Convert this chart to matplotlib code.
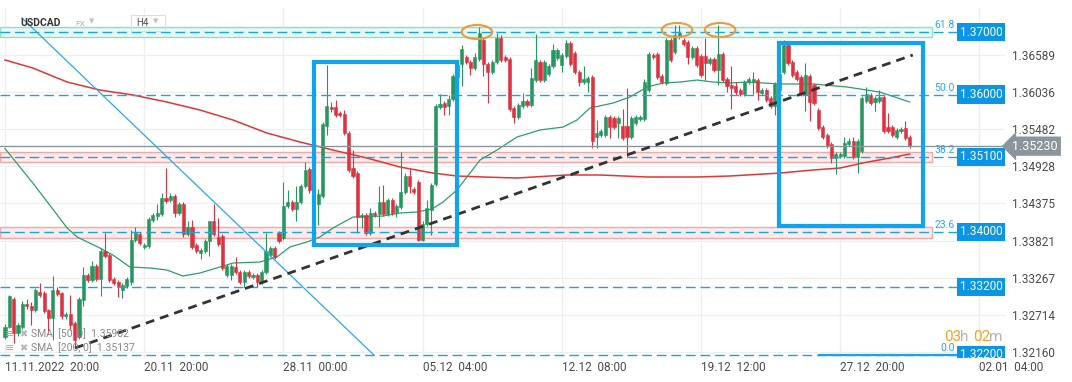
import matplotlib
matplotlib.use("Agg")
import numpy as np
import matplotlib.pyplot as plt
from matplotlib.patches import Rectangle, Ellipse

plt.rcParams['font.family'] = ['Roboto', 'DejaVu Sans']

# ---- data (USDCAD, H4 candles) ----
opens = [
    1.3239, 1.3254, 1.3295, 1.3244, 1.3254, 1.3288, 1.3285, 1.3278, 1.3306, 1.3304,
    1.3278, 1.3267, 1.3309, 1.3304, 1.3269, 1.3272, 1.3260, 1.3239, 1.3294, 1.3331,
    1.3324, 1.3345, 1.3325, 1.3366, 1.3361, 1.3325, 1.3320, 1.3309, 1.3315, 1.3321,
    1.3383, 1.3392, 1.3373, 1.3374, 1.3413, 1.3419, 1.3422, 1.3446, 1.3443, 1.3448,
    1.3424, 1.3437, 1.3392, 1.3403, 1.3376, 1.3364, 1.3367, 1.3381, 1.3412, 1.3388,
    1.3389, 1.3331, 1.3331, 1.3343, 1.3336, 1.3321, 1.3335, 1.3328, 1.3331, 1.3320,
    1.3335, 1.3361, 1.3371, 1.3393, 1.3386, 1.3434, 1.3439, 1.3429, 1.3439, 1.3463,
    1.3489, 1.3458, 1.3436, 1.3448, 1.3553, 1.3581, 1.3581, 1.3573, 1.3571, 1.3543,
    1.3490, 1.3483, 1.3418, 1.3421, 1.3393, 1.3424, 1.3422, 1.3440, 1.3422, 1.3442,
    1.3425, 1.3432, 1.3455, 1.3479, 1.3459, 1.3469, 1.3383, 1.3407, 1.3428, 1.3467,
    1.3581, 1.3588, 1.3583, 1.3593, 1.3626, 1.3646, 1.3656, 1.3648, 1.3639, 1.3653,
    1.3682, 1.3646, 1.3634, 1.3648, 1.3685, 1.3656, 1.3653, 1.3580, 1.3567, 1.3583,
    1.3591, 1.3585, 1.3622, 1.3648, 1.3622, 1.3631, 1.3642, 1.3654, 1.3644, 1.3657,
    1.3677, 1.3662, 1.3634, 1.3618, 1.3619, 1.3626, 1.3536, 1.3540, 1.3540, 1.3567,
    1.3565, 1.3557, 1.3553, 1.3553, 1.3536, 1.3557, 1.3563, 1.3563, 1.3607, 1.3659,
    1.3661, 1.3628, 1.3617, 1.3682, 1.3664, 1.3686, 1.3681, 1.3679, 1.3656, 1.3669,
    1.3658, 1.3658, 1.3647, 1.3653, 1.3636, 1.3661, 1.3623, 1.3614, 1.3612, 1.3607,
    1.3601, 1.3618, 1.3619, 1.3621, 1.3602, 1.3606, 1.3595, 1.3583, 1.3606, 1.3633,
    1.3674, 1.3649, 1.3633, 1.3626, 1.3599, 1.3628, 1.3614, 1.3577, 1.3551, 1.3540,
    1.3526, 1.3505, 1.3508, 1.3508, 1.3526, 1.3531, 1.3507, 1.3516, 1.3591, 1.3599,
    1.3589, 1.3591, 1.3596, 1.3552, 1.3551, 1.3537, 1.3545, 1.3550, 1.3536,
]
highs = [
    1.3258, 1.3301, 1.3298, 1.3260, 1.3292, 1.3295, 1.3290, 1.3312, 1.3319, 1.3307,
    1.3280, 1.3330, 1.3313, 1.3306, 1.3276, 1.3301, 1.3263, 1.3298, 1.3343, 1.3334,
    1.3351, 1.3348, 1.3371, 1.3394, 1.3364, 1.3328, 1.3323, 1.3319, 1.3328, 1.3398,
    1.3403, 1.3395, 1.3379, 1.3418, 1.3424, 1.3436, 1.3453, 1.3491, 1.3453, 1.3451,
    1.3440, 1.3440, 1.3412, 1.3413, 1.3378, 1.3371, 1.3385, 1.3412, 1.3436, 1.3416,
    1.3392, 1.3348, 1.3347, 1.3357, 1.3339, 1.3338, 1.3338, 1.3334, 1.3334, 1.3338,
    1.3394, 1.3374, 1.3374, 1.3396, 1.3469, 1.3458, 1.3442, 1.3463, 1.3466, 1.3500,
    1.3492, 1.3461, 1.3459, 1.3559, 1.3644, 1.3589, 1.3592, 1.3575, 1.3577, 1.3546,
    1.3517, 1.3486, 1.3424, 1.3424, 1.3431, 1.3427, 1.3464, 1.3465, 1.3446, 1.3445,
    1.3437, 1.3515, 1.3483, 1.3489, 1.3462, 1.3473, 1.3411, 1.3443, 1.3468, 1.3586,
    1.3601, 1.3591, 1.3599, 1.3631, 1.3648, 1.3674, 1.3659, 1.3651, 1.3662, 1.3700,
    1.3685, 1.3649, 1.3652, 1.3692, 1.3688, 1.3659, 1.3656, 1.3583, 1.3588, 1.3602,
    1.3594, 1.3639, 1.3690, 1.3651, 1.3651, 1.3645, 1.3675, 1.3669, 1.3662, 1.3681,
    1.3680, 1.3665, 1.3637, 1.3642, 1.3627, 1.3629, 1.3562, 1.3549, 1.3570, 1.3570,
    1.3568, 1.3568, 1.3578, 1.3609, 1.3568, 1.3569, 1.3569, 1.3623, 1.3664, 1.3662,
    1.3664, 1.3631, 1.3685, 1.3685, 1.3704, 1.3704, 1.3684, 1.3682, 1.3672, 1.3672,
    1.3661, 1.3684, 1.3656, 1.3656, 1.3704, 1.3664, 1.3626, 1.3642, 1.3619, 1.3610,
    1.3622, 1.3626, 1.3634, 1.3624, 1.3609, 1.3609, 1.3598, 1.3619, 1.3634, 1.3682,
    1.3677, 1.3652, 1.3636, 1.3629, 1.3647, 1.3631, 1.3617, 1.3580, 1.3554, 1.3543,
    1.3529, 1.3515, 1.3514, 1.3536, 1.3535, 1.3536, 1.3533, 1.3598, 1.3611, 1.3602,
    1.3598, 1.3606, 1.3599, 1.3572, 1.3554, 1.3550, 1.3552, 1.3561, 1.3539,
]
lows = [
    1.3236, 1.3252, 1.3230, 1.3240, 1.3250, 1.3280, 1.3257, 1.3275, 1.3298, 1.3274,
    1.3245, 1.3234, 1.3300, 1.3266, 1.3265, 1.3249, 1.3224, 1.3236, 1.3284, 1.3321,
    1.3321, 1.3322, 1.3300, 1.3356, 1.3321, 1.3316, 1.3298, 1.3297, 1.3312, 1.3316,
    1.3380, 1.3376, 1.3370, 1.3371, 1.3410, 1.3413, 1.3419, 1.3438, 1.3440, 1.3418,
    1.3421, 1.3388, 1.3389, 1.3370, 1.3363, 1.3354, 1.3364, 1.3359, 1.3389, 1.3374,
    1.3338, 1.3328, 1.3324, 1.3332, 1.3318, 1.3313, 1.3326, 1.3325, 1.3313, 1.3317,
    1.3332, 1.3358, 1.3355, 1.3378, 1.3383, 1.3431, 1.3426, 1.3411, 1.3436, 1.3460,
    1.3453, 1.3420, 1.3406, 1.3445, 1.3540, 1.3574, 1.3567, 1.3566, 1.3539, 1.3485,
    1.3476, 1.3393, 1.3401, 1.3390, 1.3390, 1.3418, 1.3403, 1.3419, 1.3419, 1.3420,
    1.3418, 1.3429, 1.3452, 1.3453, 1.3452, 1.3381, 1.3381, 1.3404, 1.3391, 1.3464,
    1.3578, 1.3570, 1.3570, 1.3590, 1.3620, 1.3613, 1.3645, 1.3629, 1.3636, 1.3650,
    1.3627, 1.3587, 1.3631, 1.3645, 1.3649, 1.3649, 1.3575, 1.3558, 1.3564, 1.3580,
    1.3582, 1.3582, 1.3619, 1.3619, 1.3619, 1.3628, 1.3639, 1.3651, 1.3634, 1.3654,
    1.3643, 1.3630, 1.3613, 1.3615, 1.3603, 1.3520, 1.3520, 1.3537, 1.3537, 1.3535,
    1.3548, 1.3535, 1.3532, 1.3507, 1.3533, 1.3554, 1.3560, 1.3560, 1.3604, 1.3653,
    1.3623, 1.3616, 1.3614, 1.3648, 1.3661, 1.3683, 1.3673, 1.3646, 1.3653, 1.3641,
    1.3626, 1.3622, 1.3644, 1.3633, 1.3614, 1.3618, 1.3603, 1.3578, 1.3600, 1.3598,
    1.3598, 1.3615, 1.3601, 1.3592, 1.3599, 1.3589, 1.3580, 1.3570, 1.3603, 1.3630,
    1.3644, 1.3626, 1.3620, 1.3598, 1.3575, 1.3560, 1.3585, 1.3547, 1.3534, 1.3520,
    1.3498, 1.3482, 1.3505, 1.3505, 1.3523, 1.3504, 1.3483, 1.3513, 1.3588, 1.3585,
    1.3576, 1.3588, 1.3542, 1.3542, 1.3537, 1.3534, 1.3542, 1.3532, 1.3520,
]
closes = [
    1.3254, 1.3299, 1.3244, 1.3257, 1.3288, 1.3284, 1.3278, 1.3309, 1.3301, 1.3277,
    1.3267, 1.3309, 1.3303, 1.3269, 1.3272, 1.3257, 1.3234, 1.3295, 1.3331, 1.3324,
    1.3345, 1.3325, 1.3366, 1.3359, 1.3324, 1.3319, 1.3314, 1.3316, 1.3325, 1.3383,
    1.3393, 1.3379, 1.3376, 1.3415, 1.3421, 1.3423, 1.3446, 1.3441, 1.3449, 1.3424,
    1.3437, 1.3392, 1.3403, 1.3373, 1.3366, 1.3368, 1.3382, 1.3411, 1.3392, 1.3377,
    1.3341, 1.3345, 1.3344, 1.3335, 1.3321, 1.3335, 1.3329, 1.3331, 1.3320, 1.3335,
    1.3367, 1.3371, 1.3358, 1.3381, 1.3434, 1.3439, 1.3429, 1.3440, 1.3463, 1.3488,
    1.3458, 1.3436, 1.3452, 1.3556, 1.3583, 1.3578, 1.3570, 1.3570, 1.3542, 1.3488,
    1.3479, 1.3418, 1.3421, 1.3393, 1.3424, 1.3421, 1.3440, 1.3422, 1.3443, 1.3423,
    1.3434, 1.3455, 1.3479, 1.3464, 1.3455, 1.3383, 1.3407, 1.3431, 1.3465, 1.3583,
    1.3586, 1.3581, 1.3593, 1.3628, 1.3644, 1.3668, 1.3648, 1.3639, 1.3656, 1.3691,
    1.3646, 1.3634, 1.3649, 1.3685, 1.3652, 1.3652, 1.3578, 1.3567, 1.3585, 1.3591,
    1.3585, 1.3624, 1.3652, 1.3622, 1.3648, 1.3642, 1.3666, 1.3666, 1.3659, 1.3677,
    1.3646, 1.3633, 1.3619, 1.3623, 1.3624, 1.3530, 1.3542, 1.3546, 1.3567, 1.3551,
    1.3551, 1.3565, 1.3535, 1.3536, 1.3565, 1.3566, 1.3566, 1.3619, 1.3661, 1.3656,
    1.3626, 1.3619, 1.3682, 1.3651, 1.3689, 1.3692, 1.3676, 1.3656, 1.3669, 1.3644,
    1.3629, 1.3647, 1.3653, 1.3636, 1.3661, 1.3621, 1.3612, 1.3609, 1.3603, 1.3601,
    1.3619, 1.3623, 1.3623, 1.3603, 1.3606, 1.3592, 1.3583, 1.3616, 1.3630, 1.3674,
    1.3647, 1.3629, 1.3623, 1.3601, 1.3629, 1.3589, 1.3588, 1.3550, 1.3537, 1.3523,
    1.3505, 1.3512, 1.3511, 1.3528, 1.3531, 1.3507, 1.3530, 1.3595, 1.3601, 1.3588,
    1.3595, 1.3596, 1.3545, 1.3545, 1.3540, 1.3547, 1.3549, 1.3535, 1.3523,
]

# SMA lines (candle index, price)
sma50_x = [0, 6.4, 14.3, 16.6, 21.8, 24.8, 28.7, 33.3, 37.2, 40.9, 44.8, 49.4, 52.4,
           58.6, 62.5, 65.5, 69.4, 72.4, 75.4, 80.0, 86.9, 90.8, 94.7, 98.2, 100.7,
           103.9, 106.2, 109.2, 113.1, 117.7, 123.0, 128.3, 131.5, 134.5, 139.8,
           143.7, 147.6, 151.3, 155.2, 159.1, 162.8, 166.7, 170.6, 174.3, 178.2,
           185.7, 193.6, 201.1, 208.0]
sma50_y = [1.35194, 1.34680, 1.34009, 1.33875, 1.33711, 1.33607, 1.33428, 1.33413,
           1.33383, 1.33294, 1.33338, 1.33428, 1.33487, 1.33502, 1.33577, 1.33726,
           1.33801, 1.33875, 1.34009, 1.34173, 1.34188, 1.34233, 1.34248, 1.34293,
           1.34397, 1.34576, 1.34770, 1.35023, 1.35172, 1.35366, 1.35471, 1.35515,
           1.35620, 1.35799, 1.35873, 1.35963, 1.36112, 1.36172, 1.36186, 1.36216,
           1.36186, 1.36172, 1.36186, 1.36172, 1.36157, 1.36157, 1.36112, 1.36037,
           1.35888]
sma200_x = [0, 6.4, 14.3, 21.8, 29.4, 37.2, 44.8, 52.4, 60.2, 67.8, 75.4, 83.2, 90.8,
            98.4, 103.9, 109.9, 117.7, 129.2, 136.8, 147.6, 159.1, 166.7, 178.2,
            185.7, 192.0, 197.2, 203.4, 208.0]
sma200_y = [1.36515, 1.36395, 1.36186, 1.36067, 1.35993, 1.35888, 1.35769, 1.35620,
            1.35426, 1.35292, 1.35172, 1.35053, 1.34919, 1.34829, 1.34785, 1.34770,
            1.34755, 1.34800, 1.34800, 1.34770, 1.34770, 1.34785, 1.34829, 1.34874,
            1.34904, 1.34979, 1.35053, 1.35113]

# horizontal levels (where they sit on the chart) and their labels
level_prices = [1.3693, 1.3600, 1.3507, 1.3395, 1.3313, 1.3212]
level_labels = ["1.37000", "1.36000", "1.35100", "1.34000", "1.33200", "1.32200"]
fib_prices = [1.3693, 1.3600, 1.3507, 1.3395, 1.3212]
fib_labels = ["61.8", "50.0", "38.2", "23.6", "0.0"]
green_zone = (1.36858, 1.37007)
red_zones = [(1.34993, 1.35143), (1.33860, 1.34024)]

last_price = 1.3523
yticks = [1.36589, 1.36036, 1.35482, 1.34928, 1.34375, 1.33821, 1.33267, 1.32714, 1.32160]
xtick_idx = [0, 32, 64, 96, 128, 160, 192, 224]
xtick_labels = ["11.11.2022  20:00", "20.11  20:00", "28.11  00:00", "05.12  04:00",
                "12.12  08:00", "19.12  12:00", "27.12  20:00", "02.01  04:00"]

# drawings (index, price)
trend_dash = [(16.1, 1.32220), (208.7, 1.36589)]
trend_blue = [(3.9, 1.37141), (84.8, 1.32116)]
boxes = [(71.0, 1.33756, 103.9, 1.36485), (177.9, 1.34039, 211.0, 1.36768)]
circles = [(108.5, 1.36932), (154.5, 1.36962), (164.4, 1.36962)]

GREEN = '#26975f'
RED = '#dd3340'
BLUE = '#1aa3e8'

fig = plt.figure(figsize=(10.72, 3.82), dpi=100)
W, H = 1072, 382


def fx(x):
    return x / W


def fy(y):
    return 1 - y / H


ax = fig.add_axes([0, fy(358), 1005 / W, 350 / H])
ax.set_xlim(-1.15, 229.9)
ax.set_ylim(1.32071, 1.37290)
for s in ax.spines.values():
    s.set_visible(False)

ax.yaxis.tick_right()
ax.set_yticks(yticks)
ax.set_yticklabels([f"{v:.5f}" for v in yticks])
ax.tick_params(axis='y', length=0, pad=5, labelsize=8.5, labelcolor='#4a4a4a')
ax.set_xticks(xtick_idx)
ax.set_xticklabels(xtick_labels, ha='left')
ax.tick_params(axis='x', length=0, pad=2.5, labelsize=8.5, labelcolor='#4a4a4a')
ax.grid(True, color='#efefef', lw=0.9)
ax.set_axisbelow(True)

ytr = ax.get_yaxis_transform()

# zones
ax.axhspan(*green_zone, xmin=0, xmax=932 / 1005, fc='#e8f8f2', ec='#93ddc1', lw=1, zorder=1)
for lo, hi in red_zones:
    ax.axhspan(lo, hi, xmin=0, xmax=932 / 1005, fc='#fdeaea', ec='#f3a8a8', lw=1, zorder=1)

# SMA lines
ax.plot(sma200_x, sma200_y, color='#e03636', lw=1.1, zorder=2)
ax.plot(sma50_x, sma50_y, color='#2e9e6b', lw=0.9, zorder=2)

# candles
o = np.array(opens)
h = np.array(highs)
l = np.array(lows)
c = np.array(closes)
idx = np.arange(len(o))
cols = np.where(c >= o, GREEN, RED)
ax.vlines(idx, l, h, colors=cols, lw=0.8, zorder=3)
ax.bar(idx, np.maximum(np.abs(c - o), 0.00005), bottom=np.minimum(o, c), width=0.72,
       color=cols, edgecolor=cols, lw=0.4, zorder=4)

# level lines
ax.hlines(level_prices, -1.15, 218.9, colors=BLUE, lw=1.0, linestyles=(0, (7, 3.5)), zorder=5)
ax.hlines(level_prices[-1], 187, 218.9, colors=BLUE, lw=1.6, zorder=5)
ax.axhline(last_price, color='#8b959b', lw=1.0, zorder=5)

for p, t in zip(fib_prices, fib_labels):
    ax.text(955 / 1005, p + 0.00025, t, transform=ytr, ha='right', va='bottom',
            color='#29a8e0', fontsize=7.5, zorder=6)
for p, t in zip(level_prices, level_labels):
    ax.text(981 / 1005, p, t, transform=ytr, ha='center', va='center', color='white',
            fontsize=8.5, zorder=7, clip_on=True,
            bbox=dict(boxstyle='square,pad=0.22', fc='#0a95e6', ec='none'))

# current price tag
ax.text(1035 / 1005, last_price, "1.35230", transform=ytr, ha='center', va='center',
        color='white', fontsize=9, zorder=7, clip_on=False,
        bbox=dict(boxstyle='larrow,pad=0.25', fc='#8b959b', ec='none'))

# drawings
(x0, y0), (x1, y1) = trend_blue
ax.plot([x0, x1], [y0, y1], color='#2aa9e6', lw=0.9, zorder=5)
(x0, y0), (x1, y1) = trend_dash
ax.plot([x0, x1], [y0, y1], color='#333333', lw=2, ls=(0, (3.2, 2.2)), zorder=6)
for bx0, by0, bx1, by1 in boxes:
    ax.add_patch(Rectangle((bx0, by0), bx1 - bx0, by1 - by0, fill=False,
                           ec='#10a4ee', lw=3, zorder=6))
for cx, cy in circles:
    ax.add_patch(Ellipse((cx, cy), 7.0, 0.0021, fill=False, ec='#ee9a3a', lw=1.5, zorder=6))

# header
fig.text(fx(20), fy(23), "USDCAD", fontsize=7.5, color='#333333', fontweight='bold', va='center')
fig.text(fx(75), fy(24), "FX", fontsize=6, color='#b0b0b0', va='center')
fig.text(fx(89), fy(22), "▼", fontsize=5, color='#c0c0c0', va='center')
fig.patches.append(plt.Rectangle((fx(131), fy(31)), 34 / W, 16 / H, transform=fig.transFigure,
                                 fill=False, ec='#dddddd', lw=0.8))
fig.text(fx(136), fy(23), "H4", fontsize=7, color='#555555', va='center')
fig.text(fx(153), fy(22), "▼", fontsize=5, color='#c0c0c0', va='center')

# legend
for yy, t in [(334, "SMA  [50, 0]  1.35902"), (348, "SMA  [200, 0]  1.35137")]:
    fig.text(fx(5), fy(yy), "≡", fontsize=8, color='#aaaaaa', va='center', family='DejaVu Sans')
    fig.text(fx(19), fy(yy), "✖", fontsize=7, color='#b5b5b5', va='center', family='DejaVu Sans')
    fig.text(fx(31), fy(yy), t, fontsize=7.5, color='#888888', va='center')

# timer
fig.text(fx(944), fy(337), "03", fontsize=11, color='#f5a030', va='center')
fig.text(fx(960), fy(337), "h", fontsize=11, color='#b5b5b5', va='center')
fig.text(fx(973), fy(337), "02", fontsize=11, color='#f5a030', va='center')
fig.text(fx(989), fy(337), "m", fontsize=11, color='#b5b5b5', va='center')

fig.savefig("out.png", dpi=100, facecolor='white')
